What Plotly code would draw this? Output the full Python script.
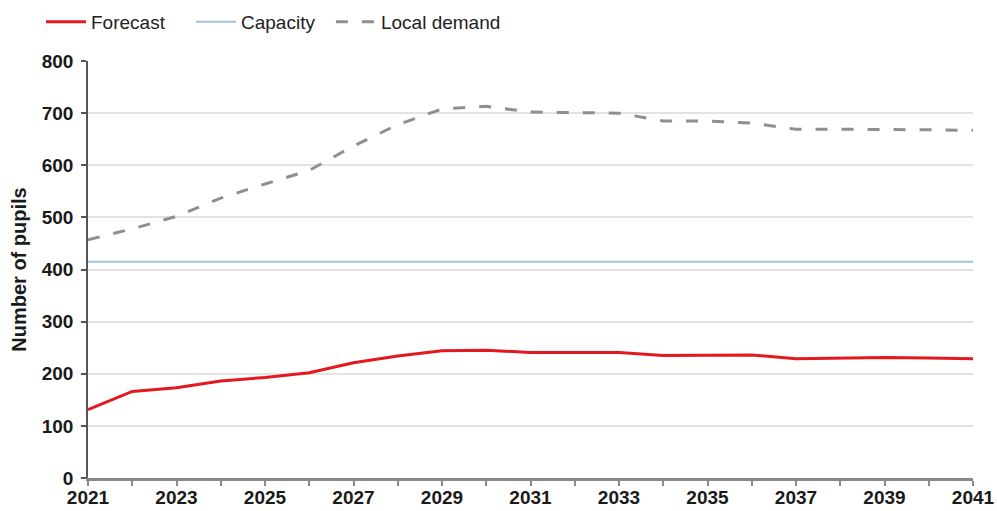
import plotly.graph_objects as go

# Pupil projections, 2021-2041
years = list(range(2021, 2042))
forecast = [131, 166, 173, 186, 193, 202, 221, 234, 244, 245, 241,
            241, 241, 235, 235, 236, 229, 230, 231, 230, 229]
capacity = [415] * len(years)
local_demand = [457, 478, 502, 537, 564, 590, 637, 678, 708, 713, 702,
                701, 700, 685, 685, 681, 669, 669, 669, 668, 667]

# Tick labels: every year gets a tick mark, every second year a label
tick_labels = [str(y) if (y - 2021) % 2 == 0 else "" for y in years]
y_ticks = list(range(0, 801, 100))

FONT = "Liberation Sans, Arial, sans-serif"

fig = go.Figure()
fig.add_trace(go.Scatter(
    x=years, y=forecast, name="Forecast", mode="lines",
    line=dict(color="#e3191f", width=3), legend="legend",
))
fig.add_trace(go.Scatter(
    x=years, y=capacity, name="Capacity", mode="lines",
    line=dict(color="#9cc3e5", width=2), legend="legend2",
))
fig.add_trace(go.Scatter(
    x=years, y=local_demand, name="Local demand", mode="lines",
    line=dict(color="#8f8f8f", width=3, dash="12px,14px"), legend="legend3",
))


def legend_box(x):
    # one single-entry legend per series, laid out in a row above the plot
    return dict(
        orientation="h", x=x, xanchor="left", y=1.0935, yanchor="middle",
        font=dict(family=FONT, size=19, color="#222222"),
        itemwidth=40, bgcolor="rgba(0,0,0,0)",
    )


fig.update_layout(
    width=997, height=511,
    margin=dict(l=88, r=24, t=61, b=33, autoexpand=False),
    paper_bgcolor="white", plot_bgcolor="white",
    font=dict(family=FONT, color="#1a1a1a"),
    showlegend=True,
    legend=legend_box(-0.0531),
    legend2=legend_box(0.1164),
    legend3=legend_box(0.2745),
    xaxis=dict(
        range=[2021, 2041], tickvals=years, ticktext=tick_labels,
        ticks="outside", ticklen=5, tickcolor="#8a8a8a", tickwidth=1.5,
        showline=True, linecolor="#8a8a8a", linewidth=2.5,
        showgrid=False, zeroline=False, automargin=False,
        ticklabelstandoff=-5,
        tickfont=dict(family=FONT, size=19, color="#1a1a1a", weight="bold"),
        tickangle=0,
    ),
    yaxis=dict(
        range=[0, 800], tickvals=y_ticks,
        ticks="outside", ticklen=5, tickcolor="#555555", tickwidth=1.5,
        showline=True, linecolor="#555555", linewidth=1.5,
        showgrid=True, gridcolor="#e3e3e3", gridwidth=1.5,
        zeroline=False, automargin=False, ticklabelstandoff=4,
        tickfont=dict(family=FONT, size=19, color="#1a1a1a", weight="bold"),
        title=dict(text="Number of pupils", standoff=10,
                   font=dict(family=FONT, size=20, color="#1a1a1a", weight="bold")),
    ),
)

fig.write_html("out.html")
